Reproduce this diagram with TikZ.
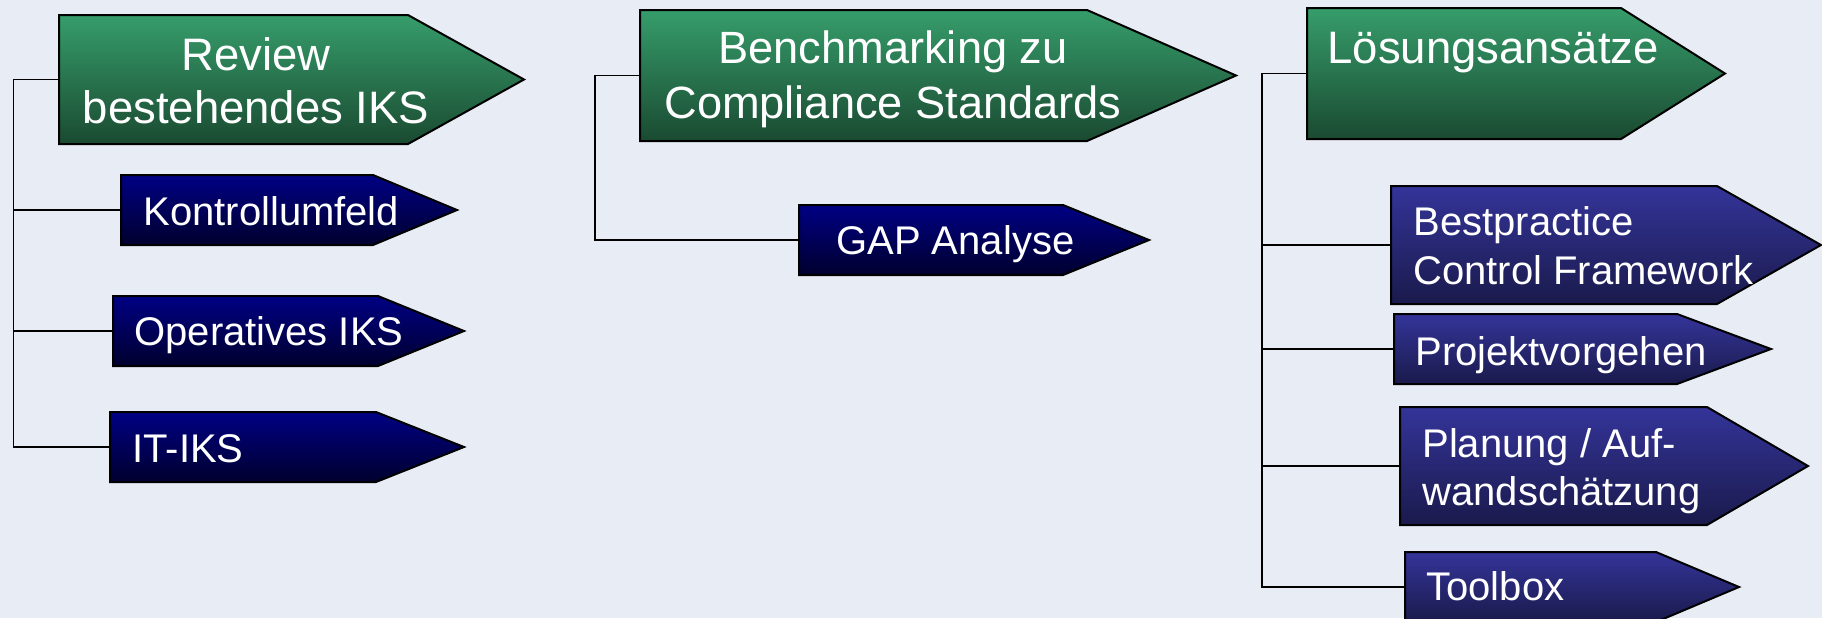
\documentclass[tikz,border=0pt]{standalone}
\usepackage{fontspec}
\setmainfont{Liberation Sans}
\definecolor{bg}{HTML}{E8ECF5}
\definecolor{gtop}{HTML}{369D6B}
\definecolor{gbot}{HTML}{1A4A31}
\definecolor{ntop}{HTML}{000084}
\definecolor{nbot}{HTML}{00002E}
\definecolor{btop}{HTML}{34349A}
\definecolor{bbot}{HTML}{1A1A4C}
\newcommand{\abox}[7]{%
  \path[#7] (#2,#3) -- (#5,#3) -- (#6,{(#3+#4)/2}) -- (#5,#4) -- (#2,#4) -- cycle;
  \coordinate (#1) at (#2,{(#3+#4)/2});
}
\begin{document}
\begin{tikzpicture}[x=0.5pt,y=-0.5pt,
  greenbox/.style={draw=black, line width=1pt, top color=gtop, bottom color=gbot},
  navybox/.style={draw=black, line width=1pt, top color=ntop, bottom color=nbot},
  violetbox/.style={draw=black, line width=1pt, top color=btop, bottom color=bbot},
  lbl/.style={text=white, inner sep=0pt},
  conn/.style={draw=black, line width=0.9pt}]
\fill[bg] (0,0) rectangle (1822,618);
\useasboundingbox (0,0) rectangle (1822,618);
\clip (0,0) rectangle (1822,618);
% buses
\coordinate (busA) at (13.5,0);
\coordinate (busB) at (595,0);
\coordinate (busC) at (1262,0);
% boxes
\abox{rev}{59}{15}{144}{408}{524}{greenbox}
\abox{kon}{121}{175}{245}{373}{457}{navybox}
\abox{ope}{113}{296}{366}{378}{464}{navybox}
\abox{itk}{110}{412}{482}{376}{464}{navybox}
\abox{ben}{640}{10}{141}{1087}{1236}{greenbox}
\abox{gap}{799}{205}{275}{1063}{1149}{navybox}
\abox{loe}{1307}{8}{139}{1621}{1725}{greenbox}
\abox{bes}{1391}{186}{304}{1717}{1821}{violetbox}
\abox{pro}{1394}{314}{384}{1677}{1771}{violetbox}
\abox{pla}{1400}{407}{525}{1707}{1808}{violetbox}
\abox{too}{1405}{552}{622}{1656}{1739}{violetbox}
% connectors
\draw[conn] (rev) -- (rev -| busA) -- (itk -| busA) -- (itk);
\draw[conn] (kon -| busA) -- (kon);
\draw[conn] (ope -| busA) -- (ope);
\draw[conn] (ben) -- (ben -| busB) -- (gap -| busB) -- (gap);
\draw[conn] (loe) -- (loe -| busC) -- (too -| busC) -- (too);
\draw[conn] (bes -| busC) -- (bes);
\draw[conn] (pro -| busC) -- (pro);
\draw[conn] (pla -| busC) -- (pla);
% labels
\node[lbl, anchor=base] (trev) at (256,70) {\fontsize{22.75}{26.5}\selectfont\begin{tabular}[t]{@{}c@{}}Review\\bestehendes IKS\end{tabular}};
\node[lbl, anchor=base west] (tkon) at (143,225) {\fontsize{20}{24}\selectfont Kontrollumfeld};
\node[lbl, anchor=base west] (tope) at (134,345) {\fontsize{20}{24}\selectfont Operatives IKS};
\node[lbl, anchor=base west] (titk) at (132,462) {\fontsize{20}{24}\selectfont IT-IKS};
\node[lbl, anchor=base] (tben) at (893,63) {\fontsize{22.6}{27.5}\selectfont\begin{tabular}[t]{@{}c@{}}Benchmarking zu\\Compliance Standards\end{tabular}};
\node[lbl, anchor=base west] (tgap) at (836,254) {\fontsize{20}{24}\selectfont GAP Analyse};
\node[lbl, anchor=base west] (tloe) at (1327,63) {\fontsize{22.75}{26.5}\selectfont Lösungsansätze};
\node[lbl, anchor=base west] (tbes) at (1413,235) {\fontsize{20}{24.5}\selectfont\begin{tabular}[t]{@{}l@{}}Bestpractice\\Control Framework\end{tabular}};
\node[lbl, anchor=base west] (tpro) at (1415,365) {\fontsize{20}{24}\selectfont Projektvorgehen};
\node[lbl, anchor=base west] (tpla) at (1422,457) {\fontsize{20}{24}\selectfont\begin{tabular}[t]{@{}l@{}}Planung / Auf-\\wandschätzung\end{tabular}};
\node[lbl, anchor=base west] (ttoo) at (1426,600) {\fontsize{20}{24}\selectfont Toolbox};
\end{tikzpicture}
\end{document}
